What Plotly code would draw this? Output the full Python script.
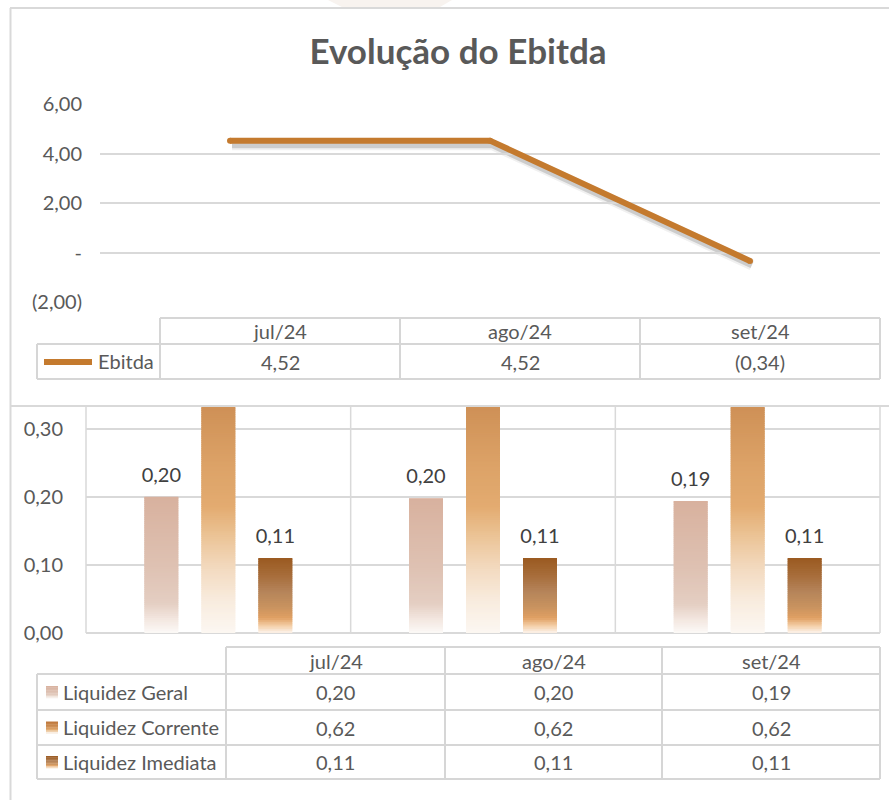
import plotly.graph_objects as go

# ---------------- data ----------------
months = ["jul/24", "ago/24", "set/24"]
ebitda = [4.52, 4.52, -0.34]
ebitda_tickvals = [-2, 0, 2, 4, 6]
ebitda_ticktext = ["(2,00)", "-", "2,00", "4,00", "6,00"]

series_names = ["Liquidez Geral", "Liquidez Corrente", "Liquidez Imediata"]
liq_geral = [0.20, 0.198, 0.194]
liq_corrente = [0.62, 0.62, 0.62]
liq_imediata = [0.11, 0.11, 0.11]
liq_tickvals = [0.0, 0.1, 0.2, 0.3]
liq_ticktext = ["0,00", "0,10", "0,20", "0,30"]
show_bar_label = [True, False, True]

W, H = 889, 800
FONT = "Lato"
TXT = "#595959"
GRID = "#D9D9D9"
TAB = "#D6D6D6"
LINE_COLOR = "#C47A2E"
FS = 20


def px(x):
    return x / W


def py(y):
    return 1 - y / H


def fmt(v):
    if abs(v) < 0.005:
        return "-"
    s = f"{abs(v):.2f}".replace(".", ",")
    return f"({s})" if v < 0 else s


def hexrgb(h):
    h = h.lstrip("#")
    return tuple(int(h[i:i + 2], 16) for i in (0, 2, 4))


def interp(stops, t):
    t = max(0.0, min(1.0, t))
    for (t0, c0), (t1, c1) in zip(stops, stops[1:]):
        if t0 <= t <= t1:
            f = 0 if t1 == t0 else (t - t0) / (t1 - t0)
            a, b = hexrgb(c0), hexrgb(c1)
            r = [round(a[i] + (b[i] - a[i]) * f) for i in range(3)]
            return f"rgb({r[0]},{r[1]},{r[2]})"
    return stops[-1][1]


grad_geral = [(0.0, "#FCF9F7"), (0.10, "#F3E7E0"), (0.22, "#E4CEC2"),
              (0.5, "#DEC1B2"), (1.0, "#D8B19E")]
grad_corrente = [(0.0, "#FCF7F2"), (0.08, "#F8EBDD"), (0.16, "#F2D8BC"),
                 (0.24, "#EAC090"), (0.30, "#E3AB70"), (0.40, "#DCA267"),
                 (0.53, "#CF9157"), (1.0, "#BE773A")]
grad_imediata = [(0.0, "#FCF4EC"), (0.10, "#F3CDA5"), (0.20, "#E0A063"),
                 (0.35, "#C8925F"), (0.55, "#B5845A"), (0.80, "#A56A36"),
                 (1.0, "#9A5A21")]
grads = [grad_geral, grad_corrente, grad_imediata]
liq_values = [liq_geral, liq_corrente, liq_imediata]

fig = go.Figure()

# ---------------- top chart: Ebitda line ----------------
# soft shadow drawn on its own, slightly shifted axes (x/y); main line on x3/y3
fig.add_trace(go.Scatter(x=months, y=ebitda, xaxis="x", yaxis="y", mode="lines",
                         line=dict(color="rgba(0,0,0,0.06)", width=11),
                         hoverinfo="skip", showlegend=False))
fig.add_trace(go.Scatter(x=months, y=ebitda, xaxis="x", yaxis="y", mode="lines",
                         line=dict(color="rgba(0,0,0,0.15)", width=7),
                         hoverinfo="skip", showlegend=False))
fig.add_trace(go.Scatter(x=months, y=ebitda, xaxis="x3", yaxis="y3", mode="lines+markers",
                         line=dict(color=LINE_COLOR, width=6),
                         marker=dict(color=LINE_COLOR, size=6),
                         name="Ebitda", showlegend=False))

# ---------------- bottom chart: gradient bars ----------------
for s, (name, vals, grad) in enumerate(zip(series_names, liq_values, grads)):
    N = max(30, int(max(vals) * 320))
    xs, bases, hs, cols = [], [], [], []
    for k in range(N):
        for m, v in zip(months, vals):
            b = v * k / N
            top = min(v * (k + 1.8) / N, v)
            xs.append(m)
            bases.append(b)
            hs.append(top - b)
            cols.append(interp(grad, (k + 0.5) / N))
    fig.add_trace(go.Bar(x=xs, y=hs, base=bases, xaxis="x2", yaxis="y2",
                         offsetgroup=str(s), marker=dict(color=cols, line=dict(width=0)),
                         hoverinfo="skip", showlegend=False))
    # value labels (transparent bars carry the text)
    pad = 0.012
    fig.add_trace(go.Bar(x=months, y=[v + pad for v in vals], xaxis="x2", yaxis="y2",
                         offsetgroup=str(s), marker=dict(color="rgba(0,0,0,0)", line=dict(width=0)),
                         text=[fmt(v) if show_bar_label[s] else "" for v in vals],
                         textposition="outside", cliponaxis=False, constraintext="none",
                         textfont=dict(family=FONT, size=FS, color="#404040"),
                         hoverinfo="skip", showlegend=False, name=name))

shapes = []
annotations = []


def hline(y, x0, x1, color=TAB, w=2):
    shapes.append(dict(type="line", xref="paper", yref="paper", x0=px(x0), x1=px(x1),
                       y0=py(y), y1=py(y), line=dict(color=color, width=w), layer="below"))


def vline(x, y0, y1, color=TAB, w=2):
    shapes.append(dict(type="line", xref="paper", yref="paper", x0=px(x), x1=px(x),
                       y0=py(y0), y1=py(y1), line=dict(color=color, width=w), layer="below"))


def text(x, y, s, anchor="center", size=FS, color=TXT):
    annotations.append(dict(x=px(x), y=py(y), xref="paper", yref="paper", text=s,
                            showarrow=False, xanchor=anchor, yanchor="middle",
                            font=dict(family=FONT, size=size, color=color)))


# panels
shapes.append(dict(type="path", xref="paper", yref="paper",
                   path=f"M {px(328)},{py(0)} L {px(342)},{py(7)} L {px(440)},{py(7)} L {px(452)},{py(0)} Z",
                   fillcolor="#F8F3EF", line=dict(width=0), layer="below"))
hline(8, 10, 889, GRID)
hline(406, 10, 889, GRID)
vline(10.5, 8, 800, GRID)

# bottom-chart category separators
for f in [0, 1 / 3, 2 / 3, 1]:
    shapes.append(dict(type="line", xref="x2 domain", yref="y2 domain", x0=f, x1=f, y0=0, y1=1,
                       line=dict(color=GRID, width=1.5), layer="below"))

# top data table
col_edges_top = [160, 400, 640, 880]
hline(318, 160, 880)
hline(344, 37, 880)
hline(379, 37, 880)
vline(37, 344, 379)
for x in col_edges_top:
    vline(x, 318, 379)
for i, m in enumerate(months):
    cx = (col_edges_top[i] + col_edges_top[i + 1]) / 2
    text(cx, 331, m)
    text(cx, 362, fmt(ebitda[i]))
shapes.append(dict(type="line", xref="paper", yref="paper", x0=px(44), x1=px(92),
                   y0=py(362), y1=py(362), line=dict(color=LINE_COLOR, width=6)))
text(96, 361, "Ebitda", anchor="left")

# bottom data table
col_edges_bot = [226, 445, 662, 880]
row_edges = [674, 710, 745, 779]
hline(647, 226, 880)
for y in row_edges:
    hline(y, 37, 880)
vline(37, 674, 779)
for x in col_edges_bot:
    vline(x, 647, 779)
for i, m in enumerate(months):
    cx = (col_edges_bot[i] + col_edges_bot[i + 1]) / 2
    text(cx, 660.5, m)
for r, (name, vals, grad) in enumerate(zip(series_names, liq_values, grads)):
    cy = (row_edges[r] + row_edges[r + 1]) / 2
    for i in range(3):
        cx = (col_edges_bot[i] + col_edges_bot[i + 1]) / 2
        text(cx, cy, fmt(vals[i]))
    text(61, cy - 0.5, name, anchor="left")
    # gradient swatch
    ns = 8
    for k in range(ns):
        y_top = cy - 6 + k * 12 / ns
        shapes.append(dict(type="rect", xref="paper", yref="paper", x0=px(46), x1=px(58),
                           y0=py(y_top), y1=py(y_top + 12 / ns + 0.3),
                           fillcolor=interp(grad, 1 - (k + 0.5) / ns), line=dict(width=0)))

fig.update_layout(
    template="none",
    width=W, height=H, autosize=False,
    margin=dict(l=0, r=0, t=0, b=0, pad=0, autoexpand=False),
    paper_bgcolor="white", plot_bgcolor="rgba(0,0,0,0)",
    title=dict(text="<b>Evolução do Ebitda</b>", x=px(458), y=py(52), xanchor="center",
               yanchor="middle", font=dict(family=FONT, size=35, color=TXT)),
    barmode="group", bargap=0.354, bargroupgap=0.404,
    showlegend=False,
    shapes=shapes, annotations=annotations,
    xaxis=dict(domain=[px(102), px(882)], type="category", range=[-0.5, 2.5],
               visible=False, anchor="y", automargin=False),
    yaxis=dict(domain=[py(306), py(108)], range=[-2, 6], visible=False, anchor="x",
               automargin=False),
    xaxis3=dict(domain=[px(100), px(880)], type="category", range=[-0.5, 2.5],
                showticklabels=False, showgrid=False, zeroline=False, showline=False,
                anchor="y3", automargin=False),
    yaxis3=dict(domain=[py(302), py(104)], range=[-2, 6], tickvals=ebitda_tickvals,
                ticktext=ebitda_ticktext, gridcolor=GRID, gridwidth=1.5, zeroline=False,
                showline=False, automargin=False,
                ticks="outside", ticklen=13, tickcolor="rgba(0,0,0,0)", anchor="x3",
                tickfont=dict(family=FONT, size=FS, color=TXT)),
    xaxis2=dict(domain=[px(86), px(880)], type="category", range=[-0.5, 2.5],
                showticklabels=False, showgrid=False, zeroline=False, showline=False,
                anchor="y2", automargin=False),
    yaxis2=dict(domain=[py(633), py(407)], range=[0, 0.332], tickvals=liq_tickvals,
                ticktext=liq_ticktext, gridcolor=GRID, gridwidth=1.5, zeroline=True,
                zerolinecolor=GRID, zerolinewidth=1.5, showline=False, automargin=False,
                ticks="outside", ticklen=18, tickcolor="rgba(0,0,0,0)", anchor="x2",
                tickfont=dict(family=FONT, size=FS, color=TXT)),
)

fig.write_html("out.html", config={"displayModeBar": False},
               post_script="document.body.style.margin='0px';")
